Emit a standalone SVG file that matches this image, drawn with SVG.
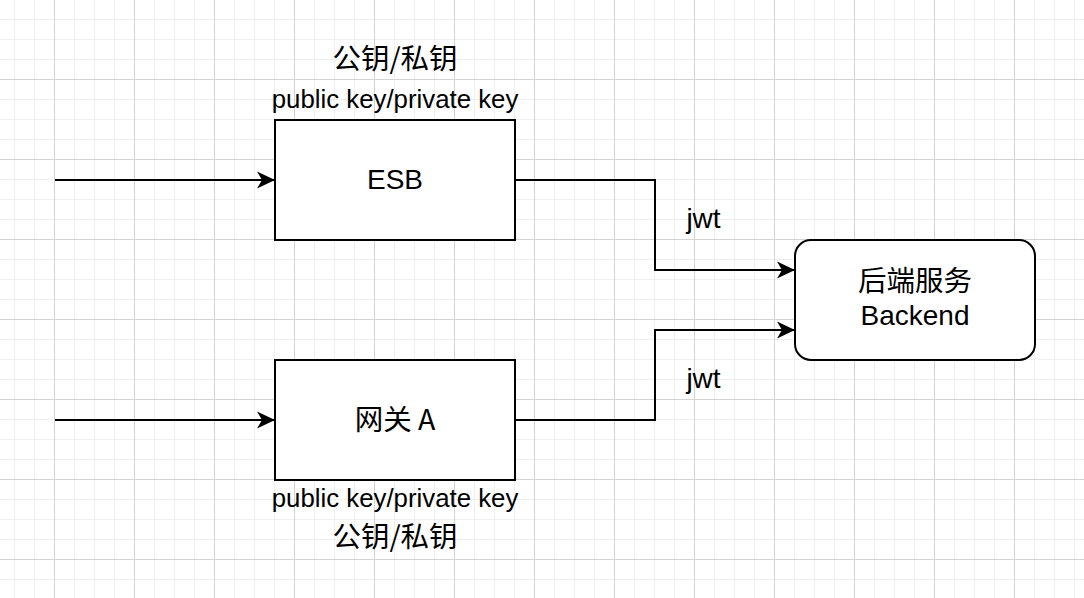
<svg xmlns="http://www.w3.org/2000/svg" width="1084" height="598" viewBox="0 0 1084 598">
  <defs>
    <pattern id="minor" patternUnits="userSpaceOnUse" x="14" y="-1" width="20" height="20">
      <path d="M0 0.5 H20 M0.5 0 V20" fill="none" stroke="#efefef" stroke-width="1"/>
    </pattern>
    <pattern id="major" patternUnits="userSpaceOnUse" x="54" y="79" width="80" height="80">
      <path d="M0 0.5 H80 M0.5 0 V80" fill="none" stroke="#d3d3d3" stroke-width="1"/>
    </pattern>
    <marker id="arrow" viewBox="0 0 18 18" refX="18" refY="9" markerWidth="18" markerHeight="18" markerUnits="userSpaceOnUse" orient="auto">
      <path d="M18 9 L0 0.5 L5 9 L0 17.5 Z" fill="#000"/>
    </marker>
    <style>
      .box { fill: #fff; stroke: #000; stroke-width: 2; }
      .edge { fill: none; stroke: #000; stroke-width: 2; marker-end: url(#arrow); }
      .lbl { font-family: "Liberation Sans", "Noto Sans CJK SC", sans-serif; font-size: 28px; fill: #000; text-anchor: middle; }
      .cjk { font-family: "Noto Sans CJK SC", "Liberation Sans", sans-serif; font-size: 28.5px; fill: #000; text-anchor: middle; }
      .key { font-family: "Liberation Sans", sans-serif; font-size: 25.8px; fill: #000; text-anchor: middle; }
    </style>
  </defs>
  <rect width="1084" height="598" fill="#fff"/>
  <rect width="1084" height="598" fill="url(#minor)"/>
  <rect width="1084" height="598" fill="url(#major)"/>

  <g id="connectors">
    <path class="edge" d="M55 180 H275"/>
    <path class="edge" d="M55 420 H275"/>
    <path class="edge" d="M515 180 H655 V270 H795"/>
    <path class="edge" d="M515 420 H655 V330 H795"/>
    <text class="lbl" x="703.5" y="228">jwt</text>
    <text class="lbl" x="703.5" y="388">jwt</text>
  </g>

  <g id="esb">
    <rect class="box" x="275" y="120" width="240" height="120"/>
    <text class="lbl" x="395" y="189">ESB</text>
    <text class="cjk" x="395" y="69">公钥/私钥</text>
    <text class="key" x="395" y="108">public key/private key</text>
  </g>

  <g id="gateway-a">
    <rect class="box" x="275" y="360" width="240" height="120"/>
    <text class="cjk" x="395" y="430">网关 A</text>
    <text class="key" x="395" y="507">public key/private key</text>
    <text class="cjk" x="395" y="547">公钥/私钥</text>
  </g>

  <g id="backend">
    <rect class="box" x="795" y="240" width="240" height="120" rx="16" ry="16"/>
    <text class="cjk" x="915" y="291">后端服务</text>
    <text class="lbl" x="915" y="325">Backend</text>
  </g>
</svg>
